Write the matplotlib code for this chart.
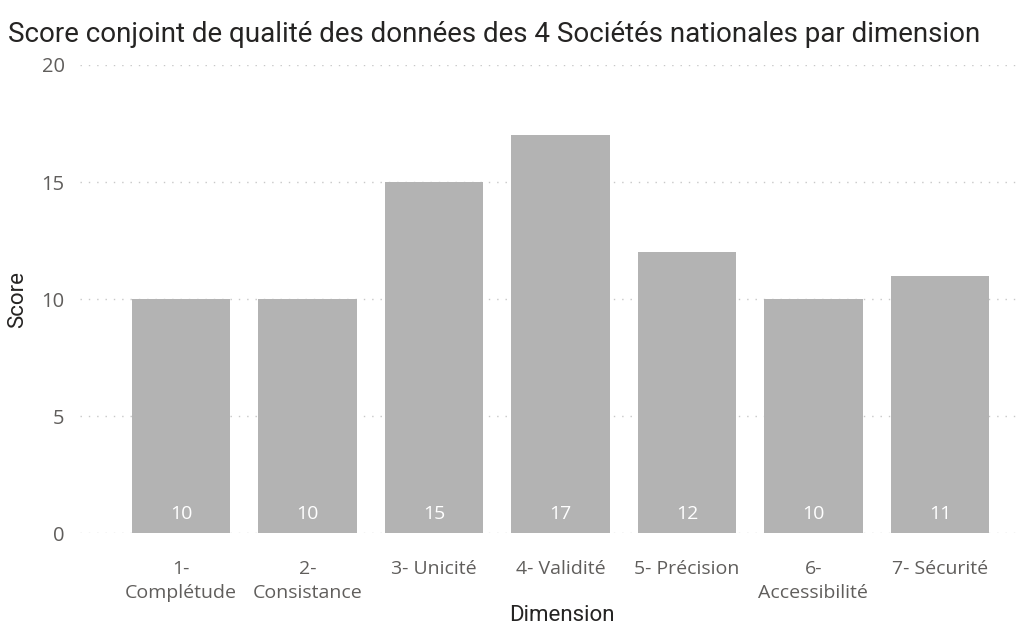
import numpy as np
import matplotlib
matplotlib.use("Agg")
from matplotlib import pyplot as plt

# data
dimensions = ["1-\nComplétude", "2-\nConsistance", "3- Unicité", "4- Validité",
              "5- Précision", "6-\nAccessibilité", "7- Sécurité"]
scores = [10, 10, 15, 17, 12, 10, 11]
yticks = [0, 5, 10, 15, 20]

plt.rcParams['font.family'] = ['Open Sans', 'DejaVu Sans']

fig = plt.figure(figsize=(10.33, 6.28), dpi=100)
ax = fig.add_axes([0.0774, 0.151, 0.9096, 0.7455])

x = np.arange(len(dimensions))
bars = ax.bar(x, scores, width=0.78, color='#B3B3B3', zorder=2)

# value labels at the bottom of each bar
for xi, s in zip(x, scores):
    ax.text(xi, 0.45, str(s), ha='center', va='bottom', color='white', fontsize=14)

ax.set_xlim(-0.8, 6.63)
ax.set_ylim(0, 20)
ax.set_yticks(yticks)
ax.set_xticks(x)
ax.set_xticklabels(dimensions, fontsize=14, color='#605E5C', linespacing=1.45)
ax.tick_params(axis='y', labelsize=14.5, labelcolor='#605E5C', length=0, pad=11)
ax.tick_params(axis='x', length=0, pad=19)

ax.grid(axis='y', linestyle=(0, (1, 5)), color='#C8C8C8', linewidth=1, zorder=0)
for sp in ax.spines.values():
    sp.set_visible(False)

ax.set_ylabel('Score', fontsize=16, color='#252423', family=['Roboto', 'DejaVu Sans'], labelpad=10)
ax.set_xlabel('Dimension', fontsize=16, color='#252423', family=['Roboto', 'DejaVu Sans'])
ax.xaxis.label.set_va('center')
ax.xaxis.set_label_coords(0.513, -0.176)

fig.text(0.008, 0.945, 'Score conjoint de qualité des données des 4 Sociétés nationales par dimension',
         fontsize=20, color='#252423', family=['Roboto', 'DejaVu Sans'], va='center', ha='left')

fig.savefig('out.png', dpi=100)
